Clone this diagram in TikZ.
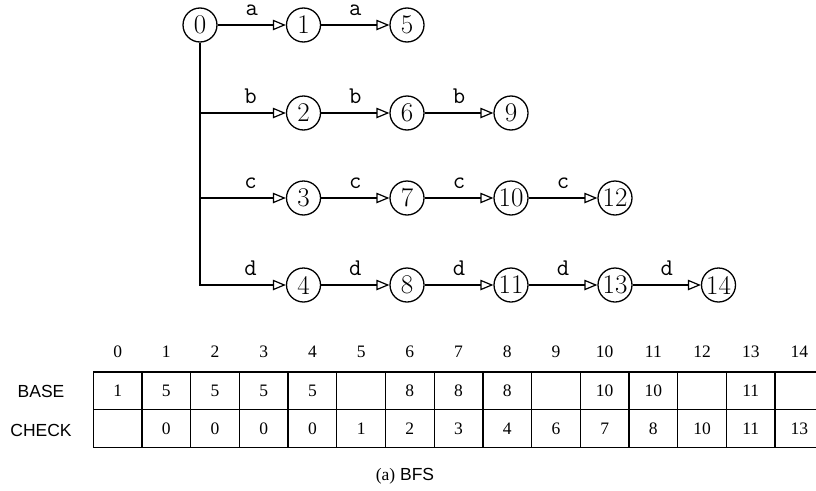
\documentclass[tikz,border=0pt]{standalone}
\usepackage{fontspec}
\newfontfamily\tabserif{Liberation Serif}
\newfontfamily\tabsans{Liberation Sans}
\usetikzlibrary{arrows.meta}
\tikzset{
  st/.style={circle,draw,line width=1.3pt,minimum size=34pt,inner sep=0pt,font=\fontsize{27}{27}\selectfont},
  tr/.style={line width=1.3pt,-{Triangle[open,length=13pt,width=10.5pt,line width=1.2pt]}},
  lab/.style={font=\fontsize{24}{24}\ttfamily,inner sep=0pt,above=9pt},
  hd/.style={inner sep=0pt,font=\tabserif\fontsize{17.5}{17.5}\selectfont},
  cell/.style={draw,line width=1.3pt,minimum width=48.7pt,minimum height=37.75pt,inner sep=0pt,font=\tabserif\fontsize{17.5}{17.5}\selectfont},
  sl/.style={inner sep=0pt,font=\tabsans\fontsize{17.5}{17.5}\selectfont},
}
\begin{document}
\begin{tikzpicture}[x=1pt,y=-1pt]
\useasboundingbox (0,0) rectangle (816,490);
\clip (0,0) rectangle (816,490);
% states
\node[st] (n0) at (200,25) {0};
\node[st] (n1) at (303.5,25) {1};
\node[st] (n5) at (407,25) {5};
\node[st] (n2) at (303.5,113) {2};
\node[st] (n6) at (407,113) {6};
\node[st] (n9) at (511,113) {9};
\node[st] (n3) at (303.5,198) {3};
\node[st] (n7) at (407,198) {7};
\node[st] (n10) at (511,198) {10};
\node[st] (n12) at (615,198) {12};
\node[st] (n4) at (303.5,285) {4};
\node[st] (n8) at (407,285) {8};
\node[st] (n11) at (511,285) {11};
\node[st] (n13) at (615,285) {13};
\node[st] (n14) at (718.5,285) {14};
% transitions
\draw[tr] (n0) -- node[lab]{a} (n1);
\draw[tr] (n1) -- node[lab]{a} (n5);
\draw[tr] (n0) |- node[lab,pos=0.795]{d} (n4);
\draw[tr] (n0 |- n2) -- node[lab,pos=0.59]{b} (n2);
\draw[tr] (n0 |- n3) -- node[lab,pos=0.59]{c} (n3);
\draw[tr] (n2) -- node[lab]{b} (n6);
\draw[tr] (n6) -- node[lab]{b} (n9);
\draw[tr] (n3) -- node[lab]{c} (n7);
\draw[tr] (n7) -- node[lab]{c} (n10);
\draw[tr] (n10) -- node[lab]{c} (n12);
\draw[tr] (n4) -- node[lab]{d} (n8);
\draw[tr] (n8) -- node[lab]{d} (n11);
\draw[tr] (n11) -- node[lab]{d} (n13);
\draw[tr] (n13) -- node[lab]{d} (n14);
% table
\foreach \i in {0,...,14} \node[hd] (h\i) at ({117.65+48.7*\i},352) {\i};
\foreach \v [count=\i from 0] in {1,5,5,5,5,{},8,8,8,{},10,10,{},11,{}}
  \node[cell] (b\i) at ({117.65+48.7*\i},390.875) {\v};
\foreach \v [count=\i from 0] in {{},0,0,0,0,1,2,3,4,6,7,8,10,11,13}
  \node[cell] (c\i) at ({117.65+48.7*\i},428.625) {\v};
\node[sl] (lbase) at (41,391.5) {BASE};
\node[sl] (lcheck) at (41,430) {CHECK};
\node[sl] (cap) at (405,476) {{\tabserif (a)} BFS};
\end{tikzpicture}
\end{document}
